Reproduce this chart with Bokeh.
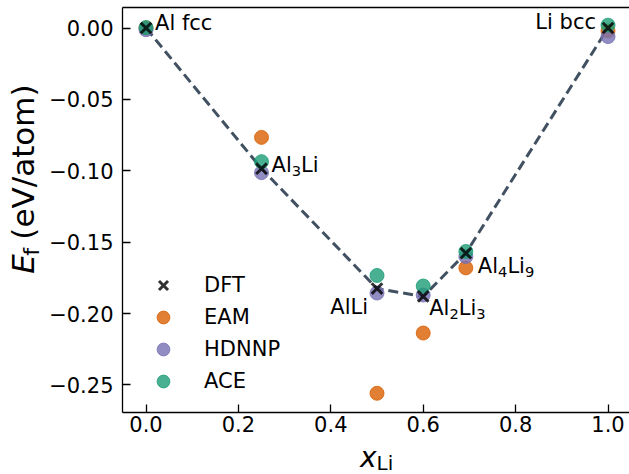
import math
from bokeh.plotting import figure
from bokeh.layouts import row, column
from bokeh.models import (Range1d, FixedTicker, LinearAxis, Legend, LegendItem,
                          ColumnDataSource)
from bokeh.core.properties import value
from bokeh.embed import file_html
from bokeh.resources import INLINE

# ---------------- data ----------------
x_li = [0.0, 0.25, 0.5, 0.6, 0.6923, 1.0]
phases = ["Al fcc", "Al_3Li", "AlLi", "Al_2Li_3", "Al_4Li_9", "Li bcc"]   # "_" = next char subscript
e_dft = [0.0, -0.0985, -0.1825, -0.1880, -0.1577, 0.0]
e_eam = [0.0, -0.0766, -0.2558, -0.2136, -0.1680, -0.0020]
e_hdnnp = [-0.0012, -0.1013, -0.1856, -0.1870, -0.1600, -0.0060]
e_ace = [0.0003, -0.0936, -0.1733, -0.1807, -0.1565, 0.0020]

x_ticks = [0.0, 0.2, 0.4, 0.6, 0.8, 1.0]
x_tick_labels = ["0.0", "0.2", "0.4", "0.6", "0.8", "1.0"]
y_ticks = [0.0, -0.05, -0.10, -0.15, -0.20, -0.25]
y_tick_labels = ["0.00", "\u22120.05", "\u22120.10", "\u22120.15", "\u22120.20", "\u22120.25"]

# annotation placement (screen px offsets of the text centre, +y down) and alignment
ann_dx = [9, 10, -9, 6, 12, -12]
ann_dy = [-5, -3.5, 18.5, 11.5, 13, -6]
ann_align = ["left", "left", "right", "left", "left", "right"]

FONT = "DejaVu Sans"
C_EAM = "#d95f02"
C_HDNNP = "#7570b3"
C_ACE = "#1b9e77"

W, H = 629, 474
YLAB_W = 44
MAIN_H = 441
FS_MAIN = 21.0
FS_SUB = 14.7
SUB_SHIFT = 6.2

# DejaVu Sans advance widths (em)
ADV = {"A": 0.684, "l": 0.278, "L": 0.557, "i": 0.278, " ": 0.318, "b": 0.635, "c": 0.550,
       "f": 0.352}
for d in "0123456789":
    ADV[d] = 0.636


def split_label(s):
    segs, cur, i = [], "", 0
    while i < len(s):
        if s[i] == "_":
            if cur:
                segs.append((cur, False))
                cur = ""
            segs.append((s[i + 1], True))
            i += 2
        else:
            cur += s[i]
            i += 1
    if cur:
        segs.append((cur, False))
    return segs


seg = dict(x=[], y=[], text=[], xo=[], yo=[], size=[])
for i, name in enumerate(phases):
    parts = split_label(name)
    widths = [sum(ADV.get(c, 0.6) for c in t) * (FS_SUB if sub else FS_MAIN) for t, sub in parts]
    start = ann_dx[i] if ann_align[i] == "left" else ann_dx[i] - sum(widths)
    cum = 0.0
    for (t, sub), w in zip(parts, widths):
        seg["x"].append(x_li[i])
        seg["y"].append(e_dft[i])
        seg["text"].append(t)
        seg["xo"].append(start + cum)
        seg["yo"].append(ann_dy[i] + (SUB_SHIFT if sub else 0.0))
        seg["size"].append(f"{FS_SUB if sub else FS_MAIN}px")
        cum += w


def blank(width, height, x0, x1, y0, y1):
    f = figure(width=width, height=height, x_range=Range1d(x0, x1), y_range=Range1d(y0, y1),
               x_axis_location=None, y_axis_location=None, output_backend="svg",
               toolbar_location=None, min_border=0)
    f.outline_line_color = None
    f.grid.visible = False
    f.background_fill_color = "white"
    f.border_fill_color = "white"
    return f


# ---------------- main plot ----------------
p = figure(width=W - YLAB_W, height=MAIN_H,
           x_range=Range1d(-0.0509, 1.0465), y_range=Range1d(-0.26926, 0.01436),
           output_backend="svg", toolbar_location=None,
           min_border_left=122 - YLAB_W, min_border_right=0, min_border_top=7,
           min_border_bottom=MAIN_H - 412)
p.xgrid.visible = False
p.ygrid.visible = False
p.outline_line_color = None
p.background_fill_color = "white"
p.border_fill_color = "white"

for ax, ticks, labels in ((p.xaxis[0], x_ticks, x_tick_labels), (p.yaxis[0], y_ticks, y_tick_labels)):
    ax.ticker = FixedTicker(ticks=ticks)
    ax.major_label_overrides = dict(zip(ticks, labels))
    ax.axis_line_width = 1.3
    ax.axis_line_color = "black"
    ax.major_tick_in = 8
    ax.major_tick_out = 0
    ax.major_tick_line_width = 1.3
    ax.major_tick_line_color = "black"
    ax.minor_tick_line_color = None
    ax.major_label_text_font = FONT
    ax.major_label_text_font_size = "21px"
    ax.major_label_text_color = "black"
p.xaxis[0].major_label_standoff = 3
p.yaxis[0].major_label_standoff = 9

top_axis = LinearAxis(ticker=FixedTicker(ticks=[]), axis_line_width=1.3, axis_line_color="black",
                      major_tick_line_color=None, minor_tick_line_color=None,
                      major_label_text_font_size="0px")
p.add_layout(top_axis, "above")

src = ColumnDataSource(dict(x=x_li, dft=e_dft, eam=e_eam, hdnnp=e_hdnnp, ace=e_ace))

p.line("x", "dft", source=src, line_color="#2c3e50", line_alpha=0.9, line_width=3, line_dash="10 5")
r_eam = p.scatter("x", "eam", source=src, size=14, fill_color=C_EAM, line_color=C_EAM,
                  fill_alpha=0.8, line_alpha=0.8, line_width=1)
r_hdnnp = p.scatter("x", "hdnnp", source=src, size=14, fill_color=C_HDNNP, line_color=C_HDNNP,
                    fill_alpha=0.8, line_alpha=0.8, line_width=1)
r_ace = p.scatter("x", "ace", source=src, size=14, fill_color=C_ACE, line_color=C_ACE,
                  fill_alpha=0.8, line_alpha=0.8, line_width=1)
r_dft = p.scatter("x", "dft", source=src, marker="x", size=15, line_color="black",
                  line_alpha=0.8, line_width=3)

p.text("x", "y", text="text", source=ColumnDataSource(seg), x_offset="xo", y_offset="yo",
       text_align="left", text_baseline="middle", text_font=value(FONT),
       text_font_size="size", text_color="black")

legend = Legend(items=[LegendItem(label="DFT", renderers=[r_dft]),
                       LegendItem(label="EAM", renderers=[r_eam]),
                       LegendItem(label="HDNNP", renderers=[r_hdnnp]),
                       LegendItem(label="ACE", renderers=[r_ace])],
                location=(25, 15), glyph_width=32, glyph_height=32, label_height=32,
                spacing=0, padding=0, margin=0, label_standoff=25,
                border_line_color=None, background_fill_alpha=0,
                label_text_font=FONT, label_text_font_size="21px", label_text_color="black")
p.add_layout(legend, "center")

# ---------------- y axis label (pixel coordinates, y measured up from the bottom) ----------------
ylab = blank(YLAB_W, MAIN_H, 0, YLAB_W, 0, MAIN_H)
ylab.text(x=[22.1], y=[MAIN_H - 290], text=["E"], angle=math.pi / 2, text_align="left",
          text_baseline="middle", text_font=value(FONT), text_font_size=value("31px"),
          text_font_style="italic", text_color="black")
ylab.text(x=[30.8], y=[MAIN_H - 270.4], text=["f"], angle=math.pi / 2, text_align="left",
          text_baseline="middle", text_font=value(FONT), text_font_size=value("22px"),
          text_color="black")
ylab.text(x=[22.1], y=[MAIN_H - 252.8], text=["(eV/atom)"], angle=math.pi / 2, text_align="left",
          text_baseline="middle", text_font=value(FONT), text_font_size=value("31px"),
          text_color="black")

# ---------------- x axis label ----------------
XLAB_H = H - MAIN_H
xlab = blank(W, XLAB_H, 0, W, 0, XLAB_H)
xlab.text(x=[359.5], y=[H - 457.2], text=["x"], text_align="left", text_baseline="middle",
          text_font=value(FONT), text_font_size=value("28px"), text_font_style="italic",
          text_color="black")
xlab.text(x=[376], y=[H - 462], text=["Li"], text_align="left", text_baseline="middle",
          text_font=value(FONT), text_font_size=value("20px"), text_color="black")

layout = column(row(ylab, p, spacing=0), xlab, spacing=0)
open("out.html", "w").write(file_html(layout, INLINE))
